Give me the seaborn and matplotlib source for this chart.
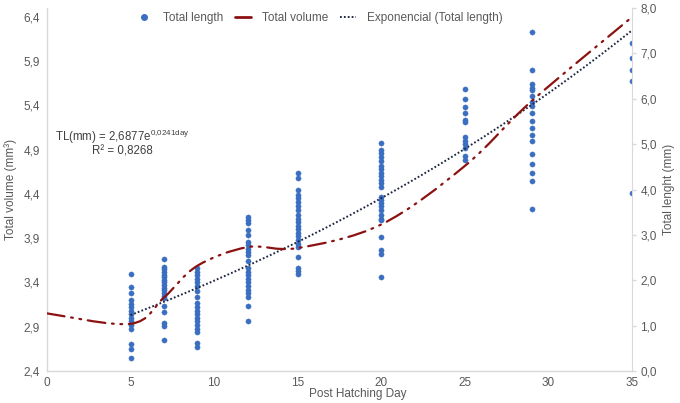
import numpy as np
import pandas as pd
import seaborn as sns
import matplotlib.pyplot as plt
from matplotlib.path import Path
from matplotlib.patches import PathPatch
from matplotlib.lines import Line2D
from matplotlib.ticker import FuncFormatter, MultipleLocator

# total length measurements per post hatching day (left axis)
tl_day5 = [3.50, 3.35, 3.28, 3.20, 3.16, 3.12, 3.08, 3.04, 3.00, 2.96, 2.92, 2.88, 2.70, 2.65, 2.55]
tl_day7 = [3.66, 3.58, 3.55, 3.52, 3.49, 3.46, 3.43, 3.40, 3.37, 3.34, 3.31, 3.28, 3.25, 3.22,
           3.13, 3.07, 2.94, 2.91, 2.75]
tl_day9 = [3.56, 3.52, 3.48, 3.44, 3.40, 3.36, 3.30, 3.24, 3.17, 3.12, 3.08, 3.04, 3.00, 2.96,
           2.92, 2.88, 2.84, 2.72, 2.67]
tl_day12 = [4.14, 4.11, 4.07, 3.99, 3.94, 3.86, 3.82, 3.78, 3.74, 3.71, 3.64, 3.56, 3.52, 3.48,
            3.44, 3.40, 3.36, 3.32, 3.28, 3.24, 3.13, 2.97]
tl_day15 = [4.64, 4.58, 4.45, 4.39, 4.35, 4.31, 4.26, 4.22, 4.16, 4.12, 4.08, 4.04, 4.00, 3.96,
            3.92, 3.88, 3.84, 3.80, 3.69, 3.56, 3.53, 3.50]
tl_day20 = [4.97, 4.90, 4.86, 4.82, 4.77, 4.72, 4.68, 4.64, 4.60, 4.56, 4.52, 4.48, 4.37, 4.33,
            4.30, 4.26, 4.22, 4.16, 4.12, 4.10, 3.91, 3.77, 3.72, 3.46]
tl_day25 = [5.58, 5.47, 5.38, 5.31, 5.24, 5.21, 5.04, 5.00, 4.96, 4.92, 4.83, 4.78]
tl_day29 = [6.23, 5.80, 5.64, 5.60, 5.57, 5.51, 5.44, 5.39, 5.31, 5.22, 5.15, 5.07, 5.00, 4.85,
            4.74, 4.64, 4.55, 4.23]
tl_day35 = [6.11, 5.93, 5.80, 5.68, 4.41]

# total volume (right axis), smoothed line
vol_days = [0, 5, 7, 9, 12, 15, 20, 25, 29, 35]
vol_values = [1.27, 1.04, 1.62, 2.32, 2.73, 2.71, 3.23, 4.52, 5.95, 7.80]

# exponential trendline
TREND_A = 2.6877
TREND_B = 0.0241

groups = {5: tl_day5, 7: tl_day7, 9: tl_day9, 12: tl_day12, 15: tl_day15,
          20: tl_day20, 25: tl_day25, 29: tl_day29, 35: tl_day35}
df = pd.DataFrame([(d, v) for d, vals in groups.items() for v in vals], columns=["day", "tl"])

BLUE = "#3A6EC1"
RED = "#8C1212"
NAVY = "#1C2640"
GREY = "#595959"
AXIS = "#D9D9D9"

sns.set_style("white")
plt.rcParams['font.family'] = ['Liberation Sans', 'DejaVu Sans']
plt.rcParams['font.size'] = 8.5

fig = plt.figure(figsize=(6.8, 4.03), dpi=100)
ax = fig.add_axes([0.0691, 0.0794, 0.8603, 0.9007])

sns.scatterplot(data=df, x="day", y="tl", ax=ax, color=BLUE, s=14, edgecolor=BLUE,
                linewidth=0.3, legend=False, zorder=2)

tx = np.linspace(5, 35, 200)
ax.plot(tx, TREND_A * np.exp(TREND_B * tx), color=NAVY, lw=1.4,
        linestyle=(0, (0.9, 1.1)), zorder=3)

ax.set_xlim(0, 35)
ax.set_ylim(2.4, 6.5)
ax.xaxis.set_major_locator(MultipleLocator(5))
ax.set_yticks(np.arange(2.4, 6.41, 0.5))
comma = FuncFormatter(lambda v, p: f"{v:.1f}".replace(".", ","))
ax.yaxis.set_major_formatter(comma)

ax.set_xlabel("Post Hatching Day", color=GREY, fontsize=8.5)
ax.set_ylabel("Total volume (mm³)", color=GREY, fontsize=8.5)
ax.xaxis.set_label_coords(0.532, -0.048)
ax.yaxis.set_label_coords(-0.052, 0.5)

for s in ["top", "right"]:
    ax.spines[s].set_visible(False)
for s in ["left", "bottom"]:
    ax.spines[s].set_color(AXIS)
    ax.spines[s].set_linewidth(1.0)
ax.tick_params(axis="y", colors=GREY, labelsize=8.5, length=0, pad=5)
ax.tick_params(axis="x", colors=GREY, labelsize=8.5, length=0, pad=4)

# twin axis for the volume line
ax2 = ax.twinx()
ax2.set_ylim(0, 8)
ax2.yaxis.set_major_locator(MultipleLocator(1))
ax2.yaxis.set_major_formatter(comma)
for s in ["top", "left", "bottom"]:
    ax2.spines[s].set_visible(False)
ax2.spines["right"].set_color(AXIS)
ax2.tick_params(axis="y", colors=GREY, labelsize=8.5, length=3, width=1, pad=3)
ax2.tick_params(axis="y", which="major", color=AXIS)
ax2.set_ylabel("Total lenght (mm)", color=GREY, fontsize=8.5)
ax2.yaxis.set_label_coords(1.053, 0.5)

# smooth bezier path through the volume points (Excel-style smoothing)
pts = np.column_stack([vol_days, vol_values]).astype(float)
verts = [pts[0]]
codes = [Path.MOVETO]
n = len(pts)
for i in range(n - 1):
    p_prev = pts[max(i - 1, 0)]
    p0 = pts[i]
    p1 = pts[i + 1]
    p_next = pts[min(i + 2, n - 1)]
    c1 = p0 + (p1 - p_prev) / 6
    c2 = p1 - (p_next - p0) / 6
    verts += [c1, c2, p1]
    codes += [Path.CURVE4] * 3
patch = PathPatch(Path(verts, codes), fill=False, edgecolor=RED, lw=1.6,
                  linestyle=(0, (8, 3, 0.8, 3, 0.8, 3)), capstyle="round")
ax2.add_patch(patch)

handles = [
    Line2D([], [], marker="o", ls="none", color=BLUE, markersize=4),
    Line2D([], [], color=RED, lw=2),
    Line2D([], [], color=NAVY, lw=1.4, linestyle=(0, (0.9, 1.1))),
]
labels = ["Total length", "Total volume", "Exponencial (Total length)"]
leg = ax.legend(handles, labels, loc="center", bbox_to_anchor=(0.465, 0.972), ncol=3,
                frameon=False, fontsize=8.5, handlelength=1.4, handletextpad=0.9,
                columnspacing=1.0)
for t in leg.get_texts():
    t.set_color(GREY)

ax.text(4.5, 4.98, "TL(mm) = 2,6877e$^{\\mathregular{0{,}0241day}}$\nR² = 0,8268",
        ha="center", va="center", multialignment="center", linespacing=1.0,
        color="#404040", fontsize=8.3)

fig.savefig("out.png", dpi=100)
